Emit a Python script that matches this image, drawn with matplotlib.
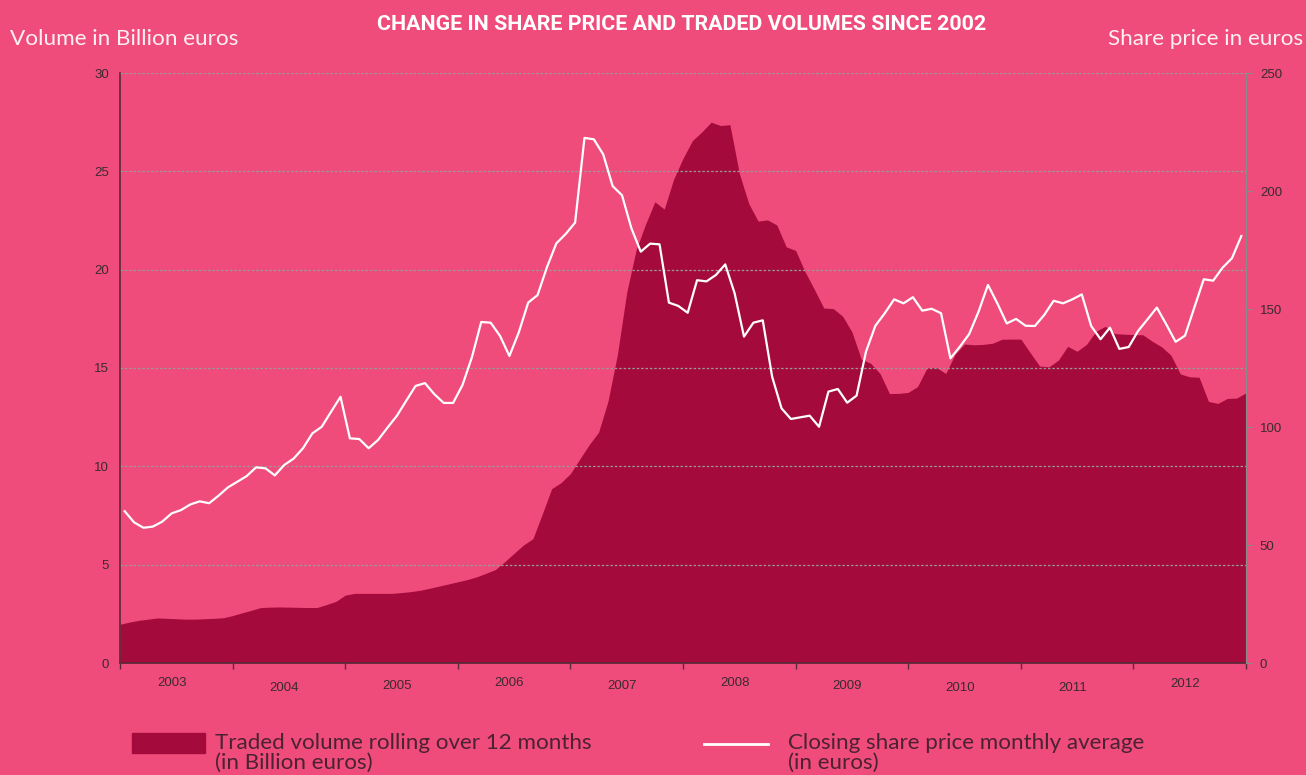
import numpy as np
import matplotlib.pyplot as plt
from matplotlib.patches import Rectangle
from matplotlib.lines import Line2D

# rolling 12-month traded volume, billion euros, month ends Dec 2002 .. Dec 2012
volume = [
    1.97, 2.08, 2.17, 2.23, 2.29, 2.27, 2.25, 2.23, 2.23, 2.25, 2.27, 2.30,
    2.41, 2.55, 2.68, 2.82, 2.84, 2.85, 2.84, 2.83, 2.82, 2.82, 2.97, 3.13,
    3.45, 3.54, 3.54, 3.54, 3.54, 3.54, 3.58, 3.63, 3.70, 3.80, 3.91, 4.02,
    4.13, 4.24, 4.38, 4.56, 4.75, 5.15, 5.58, 6.00, 6.32, 7.57, 8.86, 9.17,
    9.63, 10.37, 11.10, 11.73, 13.30, 15.66, 18.84, 21.00, 22.30, 23.45, 23.08, 24.60,
    25.66, 26.56, 27.00, 27.50, 27.33, 27.37, 24.90, 23.37, 22.47, 22.53, 22.27, 21.16,
    20.98, 19.90, 19.00, 18.05, 18.02, 17.64, 16.84, 15.45, 15.24, 14.72, 13.70, 13.71,
    13.76, 14.06, 15.00, 15.03, 14.72, 15.70, 16.22, 16.18, 16.20, 16.26, 16.46, 16.47,
    16.47, 15.78, 15.10, 15.06, 15.40, 16.10, 15.85, 16.20, 16.86, 17.12, 16.75, 16.72,
    16.70, 16.69, 16.36, 16.08, 15.65, 14.70, 14.55, 14.53, 13.30, 13.20, 13.45, 13.47,
    13.74,
]

# closing share price, monthly average, euros, Jan 2003 .. Dec 2012
price = [
    64.3, 59.6, 57.3, 57.8, 59.9, 63.4, 64.8, 67.2, 68.5, 67.7, 70.9, 74.4,
    76.8, 79.2, 82.9, 82.5, 79.5, 83.9, 86.6, 91.0, 97.3, 100.1, 106.5, 112.8,
    95.2, 94.9, 91.0, 94.5, 99.7, 104.7, 111.1, 117.4, 118.6, 113.9, 110.2, 110.2,
    117.8, 129.5, 144.5, 144.2, 138.6, 130.1, 140.1, 152.7, 155.9, 167.7, 177.8, 181.8,
    186.6, 222.5, 221.9, 215.5, 202.1, 198.2, 184.2, 174.3, 177.7, 177.4, 152.7, 151.3,
    148.4, 162.2, 161.7, 164.4, 168.9, 156.7, 138.3, 144.2, 145.2, 121.3, 107.9, 103.4,
    104.1, 104.8, 100.1, 115.0, 116.1, 110.3, 113.3, 131.9, 142.9, 148.2, 154.1, 152.4,
    155.0, 149.3, 150.1, 148.2, 129.1, 134.0, 139.4, 148.9, 160.2, 152.4, 143.9, 145.8,
    142.9, 142.8, 147.5, 153.5, 152.4, 154.1, 156.2, 142.8, 137.2, 142.1, 133.1, 133.9,
    140.7, 145.6, 150.6, 143.5, 136.1, 138.7, 150.7, 162.6, 162.0, 167.5, 171.5, 180.9,
]

years = [str(y) for y in range(2003, 2013)]
vol_ticks = [0, 5, 10, 15, 20, 25, 30]
price_ticks = [0, 50, 100, 150, 200, 250]

BG = "#EF4C7B"
DARK = "#A50A3C"
TXT = "#3a2a30"
LEG = "#4a2233"

fig = plt.figure(figsize=(13.06, 7.75), dpi=100, facecolor=BG)
ax = fig.add_axes([120 / 1306, 1 - 663 / 775, 1126 / 1306, 590 / 775])
ax.set_facecolor(BG)

vx = np.arange(len(volume))
px = np.arange(len(price)) + 0.5

ax.fill_between(vx, volume, 0, color=DARK, lw=0, zorder=1)
ax.set_xlim(0, 120)
ax.set_ylim(0, 30)
ax.set_yticks(vol_ticks)
for v in vol_ticks[1:]:
    ax.axhline(v, color="#9a9a9a", lw=0.9, ls=(0, (2, 1.5)), zorder=2)

ax.set_xticks(np.arange(0, 121, 12))
ax.set_xticklabels([])
ax.tick_params(axis="x", direction="out", length=4, color="#5a2a3a", width=1)
ax.tick_params(axis="y", length=0, labelsize=9.5, labelcolor=TXT, pad=8)
for lab in ax.get_yticklabels():
    lab.set_family("Liberation Sans")

for s in ["top", "right"]:
    ax.spines[s].set_visible(False)
ax.spines["left"].set_color("#5a2a3a")
ax.spines["bottom"].set_color("#5a2a3a")
ax.spines["left"].set_linewidth(1.2)
ax.spines["bottom"].set_linewidth(1.2)

# year labels between ticks, slightly staggered as in the original
drops = [20, 25, 23, 20, 23, 20, 23, 25, 25, 21]
for i, (yr, d) in enumerate(zip(years, drops)):
    ax.annotate(yr, xy=(12 * i + 5.5, 0), xycoords=("data", "axes fraction"),
                xytext=(0, -d), textcoords="offset pixels", ha="center", va="center",
                fontsize=9.5, color=TXT, family="Liberation Sans")

ax2 = ax.twinx()
ax2.plot(px, price, color="white", lw=1.6, zorder=3)
ax2.set_ylim(0, 250)
ax2.set_yticks(price_ticks)
ax2.tick_params(axis="y", direction="out", length=4, color="#8a8a8a",
                labelsize=9.5, labelcolor=TXT, pad=6)
for lab in ax2.get_yticklabels():
    lab.set_family("Liberation Sans")
for s in ["top", "left", "bottom"]:
    ax2.spines[s].set_visible(False)
ax2.spines["right"].set_color("#8a8a8a")

fig.text(682 / 1306, 1 - 24 / 775, "CHANGE IN SHARE PRICE AND TRADED VOLUMES SINCE 2002",
         ha="center", va="center", fontsize=15.4, fontweight="bold", color="white",
         family="Roboto")
fig.text(10 / 1306, 1 - 39 / 775, "Volume in Billion euros", ha="left", va="center",
         fontsize=16.2, color="#fff0f4", family="Lato")
fig.text(1303 / 1306, 1 - 39 / 775, "Share price in euros", ha="right", va="center",
         fontsize=16.2, color="#fff0f4", family="Lato")

# legend
fig.patches.append(Rectangle((132 / 1306, 1 - 753 / 775), 73 / 1306, 20 / 775,
                             transform=fig.transFigure, color=DARK))
fig.lines.append(Line2D([704 / 1306, 768 / 1306], [1 - 744 / 775] * 2,
                        transform=fig.transFigure, color="white", lw=2))
fig.text(215 / 1306, 1 - 733 / 775, "Traded volume rolling over 12 months\n(in Billion euros)",
         ha="left", va="top", fontsize=16.1, color=LEG, family="Lato", linespacing=1.0)
fig.text(788 / 1306, 1 - 733 / 775, "Closing share price monthly average\n(in euros)",
         ha="left", va="top", fontsize=16.1, color=LEG, family="Lato", linespacing=1.0)

fig.savefig("out.png", dpi=100, facecolor=BG)
